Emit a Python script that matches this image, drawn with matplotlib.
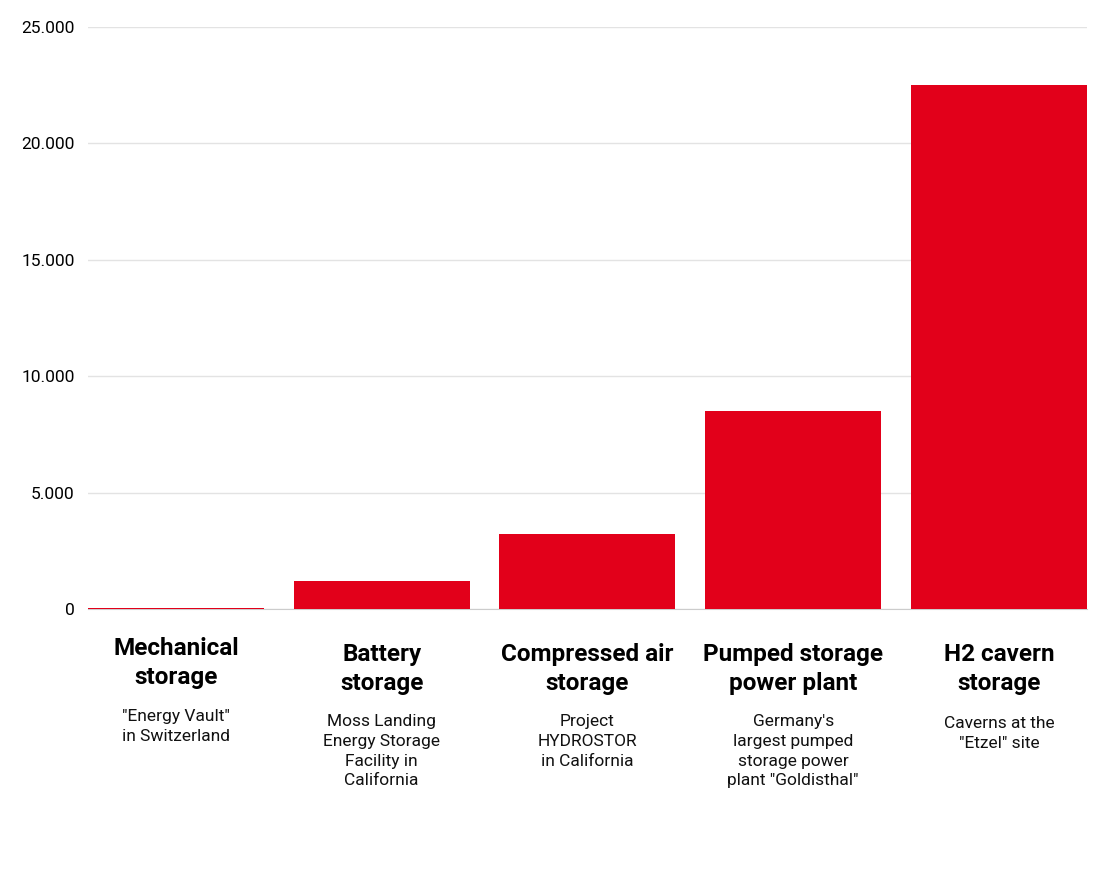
import matplotlib.pyplot as plt
import matplotlib.transforms as mtransforms
from matplotlib.ticker import FuncFormatter

# data (MWh)
categories = ['Mechanical\nstorage', 'Battery\nstorage', 'Compressed air\nstorage',
              'Pumped storage\npower plant', 'H2 cavern\nstorage']
descriptions = ['"Energy Vault"\nin Switzerland',
                'Moss Landing\nEnergy Storage\nFacility in\nCalifornia',
                'Project\nHYDROSTOR\nin California',
                "Germany's\nlargest pumped\nstorage power\nplant \"Goldisthal\"",
                'Caverns at the\n"Etzel" site']
values = [35, 1200, 3200, 8500, 22500]
yticks = [0, 5000, 10000, 15000, 20000, 25000]

bar_color = '#e2001a'
font = 'Roboto'

fig = plt.figure(figsize=(11, 8.88), dpi=100)
ax = fig.add_axes([0.08, 0.3142, 0.908, 0.6554])

x = list(range(len(values)))
ax.bar(x, values, width=0.855, color=bar_color, zorder=3)

ax.set_xlim(-0.4275, len(values) - 1 + 0.4275)
ax.set_ylim(0, 25000)
ax.set_yticks(yticks)
ax.yaxis.set_major_formatter(FuncFormatter(lambda v, p: '{:,.0f}'.format(v).replace(',', '.')))
ax.grid(axis='y', color='#e3e3e3', lw=1, zorder=0)
ax.set_xticks([])
for s in ['top', 'right', 'left']:
    ax.spines[s].set_visible(False)
ax.spines['bottom'].set_color('#cccccc')
ax.tick_params(axis='y', length=0, pad=9.5, labelsize=12.5)
for lbl in ax.get_yticklabels():
    lbl.set_fontfamily(font)
    lbl.set_color('black')

trans = mtransforms.blended_transform_factory(ax.transData, fig.transFigure)
title_top = [637, 643, 643, 643, 643]
desc_top = [709, 714, 714, 714, 716]
for i, (cat, desc) in enumerate(zip(categories, descriptions)):
    ax.text(i, 1 - title_top[i] / 888, cat, transform=trans, ha='center', va='top',
            fontsize=17.5, fontweight='bold', family=font, linespacing=1.32, color='black')
    ax.text(i, 1 - desc_top[i] / 888, desc, transform=trans, ha='center', va='top',
            fontsize=12.5, family=font, linespacing=1.4, color='#111111')

fig.savefig('out.png', dpi=100, facecolor='white')
